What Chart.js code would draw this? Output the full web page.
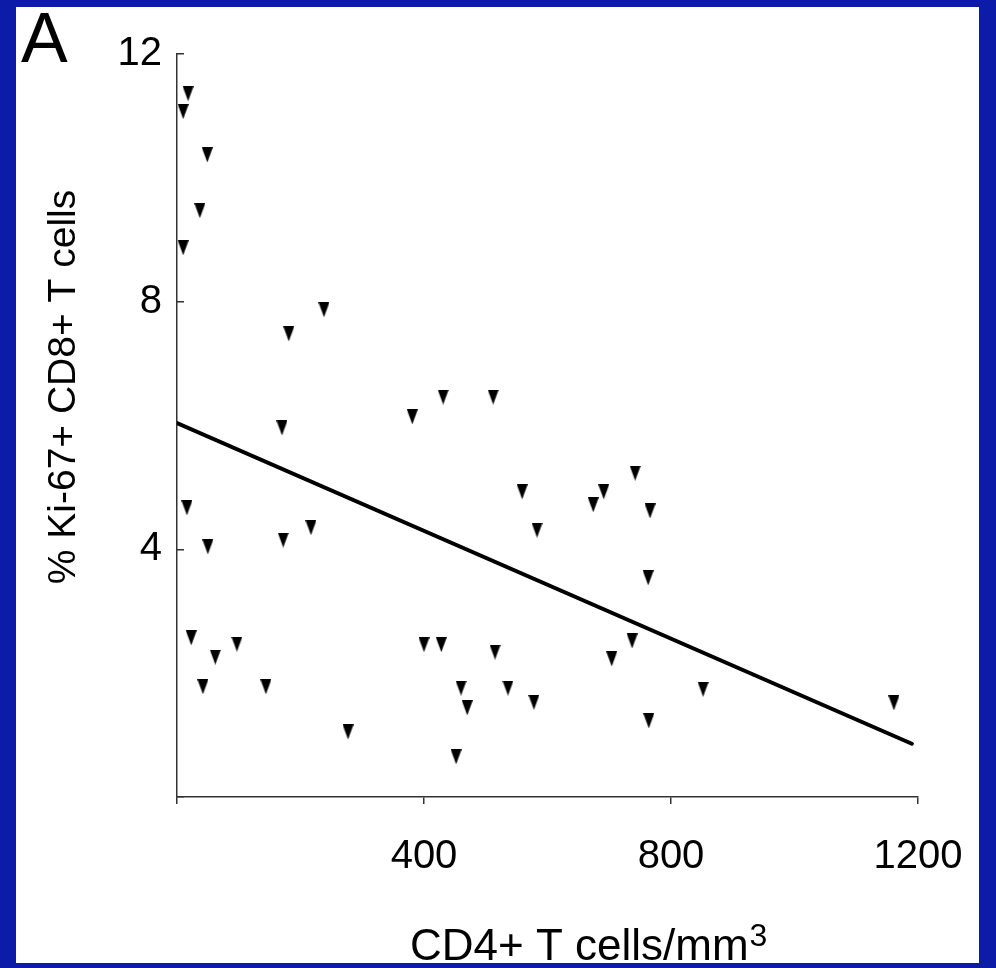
<!DOCTYPE html>
<html>
<head>
<meta charset="utf-8">
<title>Ki-67+ CD8+ T cells vs CD4+ T cells</title>
<script src="https://cdn.jsdelivr.net/npm/chart.js@4.4.1/dist/chart.umd.min.js"></script>
<style>
    html, body { margin: 0; padding: 0; background: #0c1ca8; }
    body { width: 996px; height: 968px; position: relative; overflow: hidden; }
    #panel { position: absolute; left: 16px; top: 7px; width: 963px; height: 956px; background: #fff; }
    #chart { display: block; }
</style>
</head>
<body>
<div id="panel"><canvas id="chart" width="963" height="956"></canvas></div>
<script>
// CD4+ T cells/mm3 (x) and % Ki-67+ CD8+ T cells (y), one entry per patient
const cd4Counts = [18, 10, 49, 37, 10, 238, 181, 170, 381, 431, 512, 16, 50, 172, 217, 559, 583, 674, 691, 742, 766, 763, 737, 704, 515, 460, 470, 536, 578, 852, 764, 23, 42, 62, 97, 144, 277, 400, 428, 452, 1161];
const ki67Percent = [11.36, 11.07, 10.37, 9.47, 8.87, 7.87, 7.48, 5.96, 6.14, 6.46, 6.46, 4.67, 4.04, 4.15, 4.35, 4.93, 4.31, 4.72, 4.93, 5.23, 4.62, 3.54, 2.52, 2.23, 2.34, 1.76, 1.44, 1.76, 1.53, 1.74, 1.23, 2.57, 1.78, 2.26, 2.47, 1.78, 1.05, 2.46, 2.46, 0.65, 1.52];

// regression line, end points
const fitX = [0, 1190];
const fitY = [6.04, 0.86];

const xTicks = [0, 400, 800, 1200];
const yTicks = [0, 4, 8, 12];

const panelLabel = "A";
const xTitle = "CD4+ T cells/mm";
const xTitleSup = "3";
const yTitle = "% Ki-67+ CD8+ T cells";

const FONT = '"Liberation Sans", Arial, Helvetica, sans-serif';

// downward triangle marker
function makeTriangle(w, h) {
    const c = document.createElement("canvas");
    c.width = w;
    c.height = h;
    const g = c.getContext("2d");
    g.fillStyle = "#000";
    g.beginPath();
    g.moveTo(0, 0);
    g.lineTo(w, 0);
    g.lineTo(w / 2, h);
    g.closePath();
    g.fill();
    return c;
}

// titles and the panel letter are drawn by hand so they sit where the figure has them
const textPlugin = {
    id: "panelText",
    afterDraw(chart) {
        const ctx = chart.ctx;
        ctx.save();
        ctx.fillStyle = "#000";

        ctx.font = "70px " + FONT;
        ctx.textAlign = "left";
        ctx.textBaseline = "alphabetic";
        ctx.fillText(panelLabel, 5, 55);

        ctx.save();
        ctx.translate(48, 380);
        ctx.rotate(-Math.PI / 2);
        ctx.font = "39px " + FONT;
        ctx.textAlign = "center";
        ctx.textBaseline = "middle";
        ctx.fillText(yTitle, 0, 0);
        ctx.restore();

        ctx.font = "44px " + FONT;
        ctx.textAlign = "left";
        ctx.textBaseline = "alphabetic";
        ctx.fillText(xTitle, 394, 953);
        const w = ctx.measureText(xTitle).width;
        ctx.font = "32px " + FONT;
        ctx.fillText(xTitleSup, 394 + w + 1, 939);

        ctx.restore();
    }
};

document.addEventListener("DOMContentLoaded", function () {
    const ctx = document.getElementById("chart").getContext("2d");
    const marker = makeTriangle(11, 15);

    const points = cd4Counts.map((x, i) => ({ x: x, y: ki67Percent[i] }));
    const fitLine = fitX.map((x, i) => ({ x: x, y: fitY[i] }));

    new Chart(ctx, {
        type: "scatter",
        data: {
            datasets: [
                {
                    label: "Patients",
                    data: points,
                    pointStyle: marker,
                    pointRadius: 7,
                    pointHoverRadius: 7
                },
                {
                    label: "Fit",
                    data: fitLine,
                    showLine: true,
                    borderColor: "#000",
                    borderWidth: 4,
                    borderCapStyle: "round",
                    pointRadius: 0
                }
            ]
        },
        options: {
            responsive: false,
            animation: false,
            events: [],
            layout: { padding: { left: 0, top: 47, right: 61, bottom: 0 } },
            plugins: {
                legend: { display: false },
                tooltip: { enabled: false }
            },
            scales: {
                x: {
                    type: "linear",
                    min: 0,
                    max: 1200,
                    afterBuildTicks: scale => { scale.ticks = xTicks.map(v => ({ value: v })); },
                    afterFit: scale => {
                        scale.height = 166;
                        scale.paddingLeft = 0;
                        scale.paddingRight = 0;
                    },
                    border: { display: true, color: "#333", width: 1.5 },
                    grid: { drawOnChartArea: false, color: "#333", lineWidth: 1.5, tickLength: 7 },
                    ticks: {
                        color: "#000",
                        padding: 29,
                        maxRotation: 0,
                        font: { family: FONT, size: 40 },
                        callback: v => (v === 0 ? "" : v)
                    }
                },
                y: {
                    type: "linear",
                    min: 0,
                    max: 12,
                    afterBuildTicks: scale => { scale.ticks = yTicks.map(v => ({ value: v })); },
                    afterFit: scale => {
                        scale.width = 161;
                        scale.paddingTop = 0;
                        scale.paddingBottom = 0;
                    },
                    border: { display: true, color: "#333", width: 1.5 },
                    grid: { drawOnChartArea: false, color: "#333", lineWidth: 1.5, tickLength: -7 },
                    ticks: {
                        color: "#000",
                        padding: 22,
                        font: { family: FONT, size: 40 },
                        callback: v => (v === 0 ? "" : v)
                    }
                }
            }
        },
        plugins: [textPlugin]
    });
});
</script>
</body>
</html>
